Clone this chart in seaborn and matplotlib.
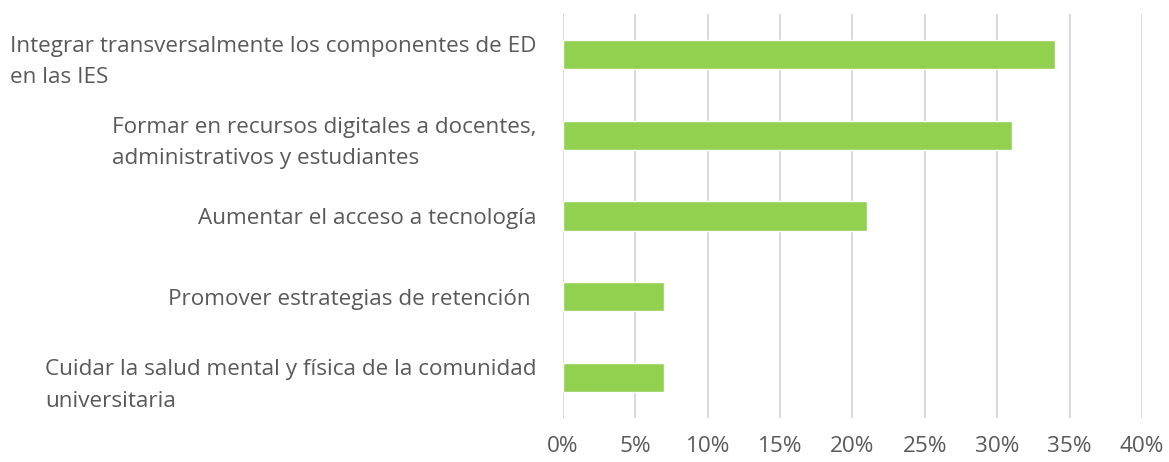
import matplotlib
matplotlib.use("Agg")
import matplotlib.pyplot as plt
from matplotlib.ticker import FuncFormatter
import seaborn as sns
import pandas as pd

categories = [
    "Integrar transversalmente los componentes de ED\nen las IES",
    "Formar en recursos digitales a docentes,\nadministrativos y estudiantes",
    "Aumentar el acceso a tecnología",
    "Promover estrategias de retención ",
    "Cuidar la salud mental y física de la comunidad\nuniversitaria",
]
values = [34, 31, 21, 7, 7]
x_ticks = [0, 5, 10, 15, 20, 25, 30, 35, 40]

df = pd.DataFrame({"accion": categories, "pct": values})

sns.set_style("white")
plt.rcParams["font.family"] = ["Open Sans", "DejaVu Sans"]

text_color = "#595959"
fig = plt.figure(figsize=(11.69, 4.62), dpi=100)
ax = fig.add_axes([0.4816, 0.0952, 0.4953, 0.8745])

sns.barplot(data=df, y="accion", x="pct", orient="h", color="#92D050",
            saturation=1, width=0.36, ax=ax)

ax.set_xlim(0, 40)
ax.set_xticks(x_ticks)
ax.xaxis.set_major_formatter(FuncFormatter(lambda v, _: f"{v:.0f}%"))
ax.grid(axis="x", color="#d9d9d9", linewidth=1.4)
ax.set_axisbelow(True)
for s in ax.spines.values():
    s.set_visible(False)
ax.set_xlabel("")
ax.set_ylabel("")
ax.tick_params(axis="x", length=0, pad=13, labelsize=16.2, labelcolor=text_color)
ax.tick_params(axis="y", length=0, pad=19, labelsize=16.2, labelcolor=text_color)
for lbl in ax.get_yticklabels():
    lbl.set_multialignment("left")
    lbl.set_linespacing(1.65)

fig.savefig("out.png", dpi=100)
